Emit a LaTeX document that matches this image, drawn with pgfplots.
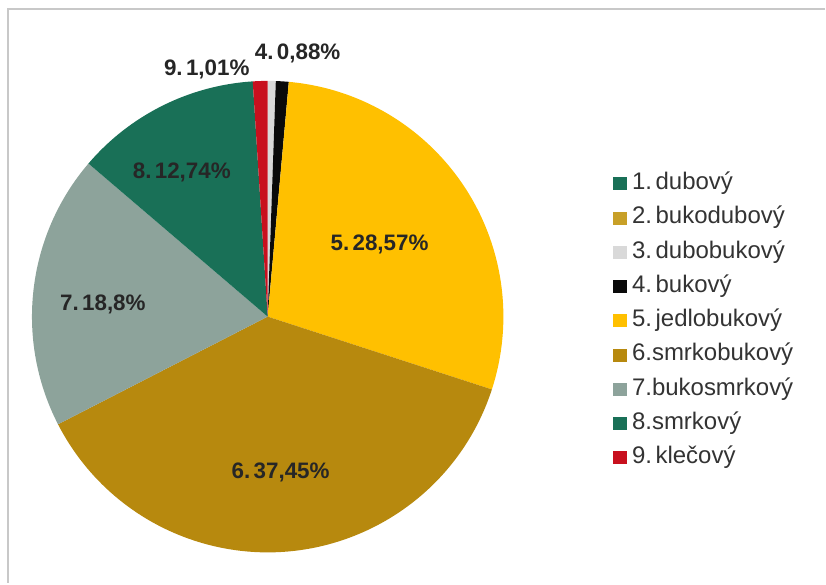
\documentclass[border=0pt]{standalone}
\usepackage{pgfplots}
\pgfplotsset{compat=1.18}
\usepackage{fontspec}
\setmainfont{Liberation Sans}

\definecolor{cDub}{RGB}{25,112,87}
\definecolor{cBukodub}{RGB}{200,160,40}
\definecolor{cDubobuk}{RGB}{217,217,217}
\definecolor{cBuk}{RGB}{10,10,10}
\definecolor{cJedl}{RGB}{255,192,0}
\definecolor{cSmrkobuk}{RGB}{183,137,14}
\definecolor{cBukosmrk}{RGB}{141,163,155}
\definecolor{cSmrk}{RGB}{25,112,87}
\definecolor{cKlec}{RGB}{200,16,30}
\definecolor{labtext}{RGB}{38,38,38}
\definecolor{legtext}{RGB}{51,51,51}
\definecolor{frame}{RGB}{200,200,200}

% narrow space after the item number
\newcommand{\nsp}{\hspace{0.15em}}

\begin{document}
\begin{tikzpicture}
\begin{axis}[
    width=619.5pt, height=438pt,
    scale only axis,
    xmin=0, xmax=826, ymin=0, ymax=584,
    hide axis,
    clip=false,
    legend cell align=left,
    legend image code/.code={
        \fill[#1] (0pt,-4.5pt) rectangle (9.75pt,4.5pt);
        \path (14.25pt,0pt);
    },
    legend style={
        at={(axis cs:613,411)}, anchor=north west,
        draw=none, fill=none, inner sep=0pt,
        column sep=0pt, row sep=9.7pt,
        font=\fontsize{18}{21}\selectfont\color{legtext},
        nodes={inner sep=0pt, text height=12.5pt, text depth=3.5pt},
    },
]
% chart frame (cut off at right and bottom)
\pgfplotsextra{
    \path (axis cs:0,0) rectangle (axis cs:826,584);
    \draw[frame, line width=1.5pt] (axis cs:826,575) -- (axis cs:8,575) -- (axis cs:8,0);
}

% slices, clockwise from the top, in %
\pgfplotsextra{
    \gdef\cum{0}
    \foreach \v/\c in {0/cDub, 0/cBukodub, 0.55/cDubobuk, 0.88/cBuk,
                       28.57/cJedl, 37.45/cSmrkobuk, 18.8/cBukosmrk,
                       12.74/cSmrk, 1.01/cKlec}{
        \pgfmathsetmacro\a{90-3.6*\cum}
        \pgfmathsetmacro\b{90-3.6*(\cum+\v)}
        \ifdim\v pt>0pt
            \fill[\c] (axis cs:268,267) -- ++(\a:177pt)
                arc[start angle=\a, end angle=\b, radius=177pt] -- cycle;
        \fi
        \pgfmathsetmacro\n{\cum+\v}
        \global\let\cum\n
    }
}

% data labels
\pgfplotsextra{
    \begin{scope}[every node/.style={font=\fontsize{16.8}{20}\selectfont\bfseries, text=labtext}]
    \node at (axis cs:298,531) {4.\nsp0,88\%};
    \node at (axis cs:207,514) {9.\nsp1,01\%};
    \node at (axis cs:380,339) {5.\nsp28,57\%};
    \node at (axis cs:281,111) {6.\nsp37,45\%};
    \node at (axis cs:103,279) {7.\nsp18,8\%};
    \node at (axis cs:182,411) {8.\nsp12,74\%};
    \end{scope}
}

\addlegendimage{cDub}
\addlegendentry{1.\nsp dubový}
\addlegendimage{cBukodub}
\addlegendentry{2.\nsp bukodubový}
\addlegendimage{cDubobuk}
\addlegendentry{3.\nsp dubobukový}
\addlegendimage{cBuk}
\addlegendentry{4.\nsp bukový}
\addlegendimage{cJedl}
\addlegendentry{5.\nsp jedlobukový}
\addlegendimage{cSmrkobuk}
\addlegendentry{6.smrkobukový}
\addlegendimage{cBukosmrk}
\addlegendentry{7.bukosmrkový}
\addlegendimage{cSmrk}
\addlegendentry{8.smrkový}
\addlegendimage{cKlec}
\addlegendentry{9.\nsp klečový}
\end{axis}
\end{tikzpicture}
\end{document}
